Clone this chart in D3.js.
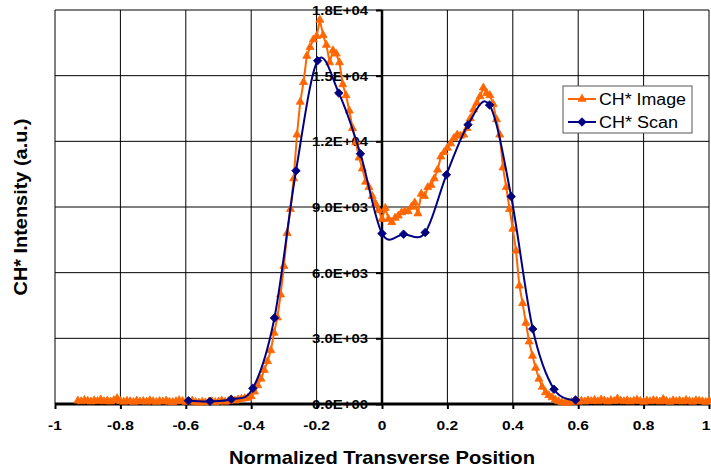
<!DOCTYPE html>
<html>
<head>
<meta charset="utf-8">
<script src="https://cdn.jsdelivr.net/npm/d3@7/dist/d3.min.js"></script>
<style>
  html, body { margin: 0; padding: 0; background: #fff; }
  svg { display: block; }
  text { font-family: Arial, "Liberation Sans", sans-serif; fill: #000; }
</style>
</head>
<body>
<svg id="chart" width="711" height="470"></svg>
<script>
// Axis ticks
const xTicks = [-1, -0.8, -0.6, -0.4, -0.2, 0, 0.2, 0.4, 0.6, 0.8, 1];
const xTickLabels = ["-1", "-0.8", "-0.6", "-0.4", "-0.2", "0", "0.2", "0.4", "0.6", "0.8", "1"];
const yTicks = [0, 3000, 6000, 9000, 12000, 15000, 18000];
const yTickLabels = ["0.0E+00", "3.0E+03", "6.0E+03", "9.0E+03", "1.2E+04", "1.5E+04", "1.8E+04"];

// CH* Image: one sample per 0.01 of normalized position, from -0.93 to 1.00
const imageStart = -0.93;
const imageStep = 0.01;
const imageValues = [
  150, 120, 180, 140, 110, 160, 130, 200, 120, 150,
  110, 170, 260, 130, 100, 140, 120, 90, 150, 110,
  130, 100, 160, 120, 90, 130, 110, 150, 100, 80,
  120, 170, 130, 90, 110, 150, 80, 60, 100, 70,
  90, 120, 80, 110, 150, 100, 130, 180, 150,
  200, 230, 260, 280,
  350, 560, 850, 1150, 1550, 1950, 2450, 3250, 3950, 5000,
  6300, 7800, 8900, 10300, 12300, 13800, 14700, 15900, 16300, 16650,
  16800, 17550, 16850, 16400, 15600, 16150, 16000, 15600, 14600, 14100,
  13400, 12600, 11950, 11250, 10750, 10150, 9900, 9500, 9150, 8850,
  8450, 8950, 8450, 8300, 8500, 8600, 8750, 8800, 8800, 9000,
  9200, 8700, 9600, 9500, 9900, 10000, 10300, 10700, 11300, 11500,
  11700, 11900, 12150, 12300, 12250, 12300, 12600, 13050, 13450, 13750,
  14050, 14450, 14200, 14100, 13700, 13000, 12300, 10800, 9900, 8900,
  8000, 7000, 5400, 4600, 3700, 2850, 2200, 1650, 1150, 780,
  530, 400, 300, 200, 120, 80, 50, 60, 90, 120,
  100, 140, 110, 160, 130, 180, 120, 200, 150, 110,
  170, 130, 240, 150, 120, 160, 110, 140, 190, 130,
  100, 150, 120, 170, 140, 110, 220, 130, 90, 160,
  120, 150, 110, 180, 130, 100, 160, 140, 120, 90,
  150
];

// CH* Scan: traverse positions and intensities
const scanPositions = [-0.592, -0.526, -0.461, -0.395, -0.329, -0.263, -0.197, -0.132, -0.066,
  0, 0.066, 0.132, 0.197, 0.263, 0.329, 0.395, 0.461, 0.526, 0.592];
const scanValues = [150, 120, 215, 717, 3932, 10655, 15684, 14205, 11431,
  7790, 7760, 7833, 10471, 12757, 13658, 9479, 3429, 672, 183];

const seriesNames = ["CH* Image", "CH* Scan"];
const colors = { image: "#FF6600", scan: "#000080" };

const imageData = imageValues.map((v, i) => ({ x: imageStart + i * imageStep, y: v }));
const scanData = scanValues.map((v, i) => ({ x: scanPositions[i], y: v }));

const plot = { left: 55, right: 709, top: 10, bottom: 404 };
const x = d3.scaleLinear().domain([-1, 1]).range([plot.left, plot.right]);
const y = d3.scaleLinear().domain([0, 18000]).range([plot.bottom, plot.top]);

const svg = d3.select("#chart");

// Widen a text element horizontally by a factor (the chart's lettering runs wide)
function widen(sel, factor) {
  sel.each(function () {
    const w = this.getComputedTextLength();
    d3.select(this).attr("textLength", w * factor).attr("lengthAdjust", "spacingAndGlyphs");
  });
}

// Grid
const grid = svg.append("g");
grid.selectAll("line.vg").data(xTicks).join("line")
  .attr("x1", d => x(d)).attr("x2", d => x(d))
  .attr("y1", plot.top).attr("y2", plot.bottom)
  .attr("stroke", "#000").attr("stroke-width", 1);
grid.selectAll("line.hg").data(yTicks).join("line")
  .attr("x1", plot.left).attr("x2", plot.right)
  .attr("y1", d => y(d)).attr("y2", d => y(d))
  .attr("stroke", "#000").attr("stroke-width", 1);

// Y axis through x = 0: tick marks from the axis generator, bold labels
const yAxis = d3.axisLeft(y).tickValues(yTicks).tickFormat("").tickSize(6);
const gy = svg.append("g").attr("transform", `translate(${x(0)},0)`).call(yAxis);
gy.select(".domain").remove();
gy.selectAll(".tick line").attr("stroke", "#000").attr("stroke-width", 2);
svg.append("g").selectAll("text").data(yTicks).join("text")
  .attr("x", x(0) - 14).attr("y", d => y(d)).attr("dy", "0.36em")
  .attr("text-anchor", "end")
  .style("font-size", "13.5px").style("font-weight", "bold")
  .text((d, i) => yTickLabels[i])
  .attr("textLength", 56).attr("lengthAdjust", "spacingAndGlyphs");
svg.append("line").attr("x1", x(0)).attr("x2", x(0)).attr("y1", plot.top).attr("y2", plot.bottom)
  .attr("stroke", "#000").attr("stroke-width", 2.5);

// X axis along y = 0
const xAxis = d3.axisBottom(x).tickValues(xTicks).tickFormat("").tickSize(5);
const gx = svg.append("g").attr("transform", `translate(0,${y(0)})`).call(xAxis);
gx.select(".domain").remove();
gx.selectAll(".tick line").attr("stroke", "#000").attr("stroke-width", 2);
svg.append("g").selectAll("text").data(xTicks).join("text")
  .attr("x", (d, i) => x(d) - (i === xTicks.length - 1 ? 3 : 0)).attr("y", y(0) + 26)
  .attr("text-anchor", "middle")
  .style("font-size", "13.5px").style("font-weight", "bold")
  .text((d, i) => xTickLabels[i])
  .call(widen, 1.15);
svg.append("line").attr("x1", plot.left).attr("x2", plot.right).attr("y1", y(0)).attr("y2", y(0))
  .attr("stroke", "#000").attr("stroke-width", 3);

// Series: CH* Image (straight segments with triangles)
const imageLine = d3.line().x(d => x(d.x)).y(d => y(d.y));
svg.append("path").datum(imageData).attr("d", imageLine)
  .attr("fill", "none").attr("stroke", colors.image).attr("stroke-width", 2);
const tri = d3.symbol().type(d3.symbolTriangle).size(28);
svg.append("g").selectAll("path").data(imageData).join("path")
  .attr("d", tri).attr("transform", d => `translate(${x(d.x)},${y(d.y)})`)
  .attr("fill", colors.image).attr("stroke", colors.image).attr("stroke-width", 0.8);

// Series: CH* Scan (smoothed line with diamonds)
const scanLine = d3.line().x(d => x(d.x)).y(d => y(d.y)).curve(d3.curveCatmullRom.alpha(0));
svg.append("path").datum(scanData).attr("d", scanLine)
  .attr("fill", "none").attr("stroke", colors.scan).attr("stroke-width", 2);
const dia = d3.symbol().type(d3.symbolSquare).size(36);
svg.append("g").selectAll("path").data(scanData).join("path")
  .attr("d", dia).attr("transform", d => `translate(${x(d.x)},${y(d.y)}) rotate(45)`)
  .attr("fill", colors.scan).attr("stroke", colors.scan).attr("stroke-width", 0.8);

// Axis titles
svg.append("text").attr("x", 382).attr("y", 464)
  .attr("text-anchor", "middle").style("font-size", "18.5px").style("font-weight", "bold")
  .text("Normalized Transverse Position")
  .attr("textLength", 306).attr("lengthAdjust", "spacingAndGlyphs");
svg.append("text").attr("transform", `translate(27,${(plot.top + plot.bottom) / 2}) rotate(-90)`)
  .attr("text-anchor", "middle").style("font-size", "18.5px").style("font-weight", "bold")
  .text("CH* Intensity (a.u.)")
  .attr("textLength", 177).attr("lengthAdjust", "spacingAndGlyphs");

// Legend
const lg = svg.append("g").attr("transform", "translate(563,86)");
lg.append("rect").attr("width", 129).attr("height", 47)
  .attr("fill", "#fff").attr("stroke", "#555").attr("stroke-width", 1);
const items = [
  { name: seriesNames[0], color: colors.image, sym: tri, rot: 0, w: 87 },
  { name: seriesNames[1], color: colors.scan, sym: dia, rot: 45, w: 79 }
];
items.forEach((it, i) => {
  const cy = 13 + i * 23;
  lg.append("line").attr("x1", 5).attr("x2", 33).attr("y1", cy).attr("y2", cy)
    .attr("stroke", it.color).attr("stroke-width", 2);
  lg.append("path").attr("d", it.sym).attr("transform", `translate(19,${cy}) rotate(${it.rot})`)
    .attr("fill", it.color).attr("stroke", it.color).attr("stroke-width", 0.8);
  lg.append("text").attr("x", 36).attr("y", cy + 6)
    .style("font-size", "16px").text(it.name)
    .attr("textLength", it.w).attr("lengthAdjust", "spacingAndGlyphs");
});
</script>
</body>
</html>
